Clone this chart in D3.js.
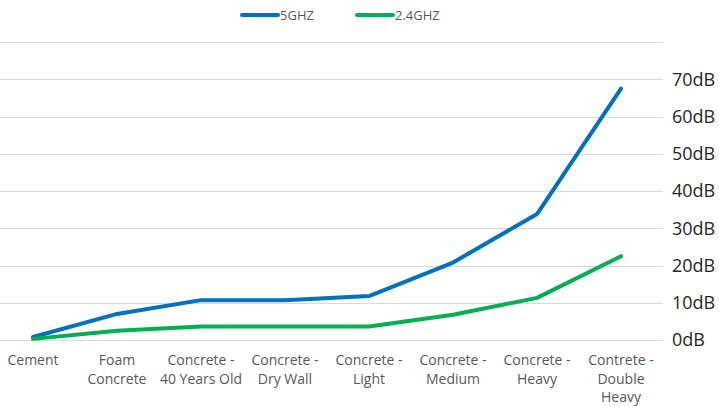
<!DOCTYPE html>
<html>
<head>
<meta charset="utf-8">
<script src="https://cdn.jsdelivr.net/npm/d3@7/dist/d3.min.js"></script>
<style>
  html, body { margin: 0; padding: 0; background: #fff; }
  svg { display: block; font-family: "Open Sans", sans-serif; }
</style>
</head>
<body>
<svg id="chart" width="719" height="407"></svg>
<script>
// Signal loss through building materials
const materials = [
  ["Cement"],
  ["Foam", "Concrete"],
  ["Concrete -", "40 Years Old"],
  ["Concrete -", "Dry Wall"],
  ["Concrete -", "Light"],
  ["Concrete -", "Medium"],
  ["Concrete -", "Heavy"],
  ["Contrete -", "Double", "Heavy"]
];
const loss5GHz  = [0.8, 7.0, 10.7, 10.7, 11.8, 20.8, 33.8, 67.5];
const loss24GHz = [0.3, 2.5, 3.6, 3.6, 3.6, 6.8, 11.3, 22.5];
const gridValues = [0, 10, 20, 30, 40, 50, 60, 70, 80];
const tickLabels = ["0dB", "10dB", "20dB", "30dB", "40dB", "50dB", "60dB", "70dB"];

const series = [
  { name: "5GHZ", values: loss5GHz, color: "#0070C0" },
  { name: "2.4GHZ", values: loss24GHz, color: "#00B050" }
];

const svg = d3.select("#chart");
const idx = materials.map((d, i) => i);

const x = d3.scalePoint().domain(idx).range([-9, 663]).padding(0.5);
const y = d3.scaleLinear().domain([0, 80]).range([340, 42]);

// horizontal gridlines
svg.append("g").selectAll("line")
  .data(gridValues).join("line")
  .attr("x1", -9).attr("x2", 663)
  .attr("y1", d => Math.round(y(d)) + 0.5)
  .attr("y2", d => Math.round(y(d)) + 0.5)
  .attr("stroke", "#d9d9d9").attr("stroke-width", 1);

// value axis on the right
svg.append("g").selectAll("text")
  .data(tickLabels).join("text")
  .attr("x", 672)
  .attr("y", (d, i) => y(i * 10))
  .attr("dy", "0.36em")
  .attr("font-size", 18)
  .attr("fill", "#262626")
  .text(d => d);

// category labels
const cat = svg.append("g").selectAll("text")
  .data(materials).join("text")
  .attr("x", (d, i) => x(i))
  .attr("y", 365)
  .attr("text-anchor", "middle")
  .attr("font-size", 14)
  .attr("fill", "#595959");
cat.selectAll("tspan")
  .data(d => d).join("tspan")
  .attr("x", function() { return d3.select(this.parentNode).attr("x"); })
  .attr("dy", (d, j) => j === 0 ? 0 : 18.5)
  .text(d => d);

// lines
const line = d3.line().x((d, i) => x(i)).y(d => y(d));
svg.append("g").selectAll("path")
  .data(series).join("path")
  .attr("d", s => line(s.values))
  .attr("fill", "none")
  .attr("stroke", s => s.color)
  .attr("stroke-width", 4)
  .attr("stroke-linejoin", "round")
  .attr("stroke-linecap", "round");

// legend
const legendX = [242, 357];
const lg = svg.append("g").selectAll("g")
  .data(series).join("g")
  .attr("transform", (s, i) => `translate(${legendX[i]},15)`);
lg.append("line")
  .attr("x1", 0).attr("x2", 36)
  .attr("stroke", s => s.color)
  .attr("stroke-width", 4)
  .attr("stroke-linecap", "round");
lg.append("text")
  .attr("x", 38).attr("dy", "0.36em")
  .attr("font-size", 13)
  .attr("fill", "#595959")
  .text(s => s.name);
</script>
</body>
</html>
